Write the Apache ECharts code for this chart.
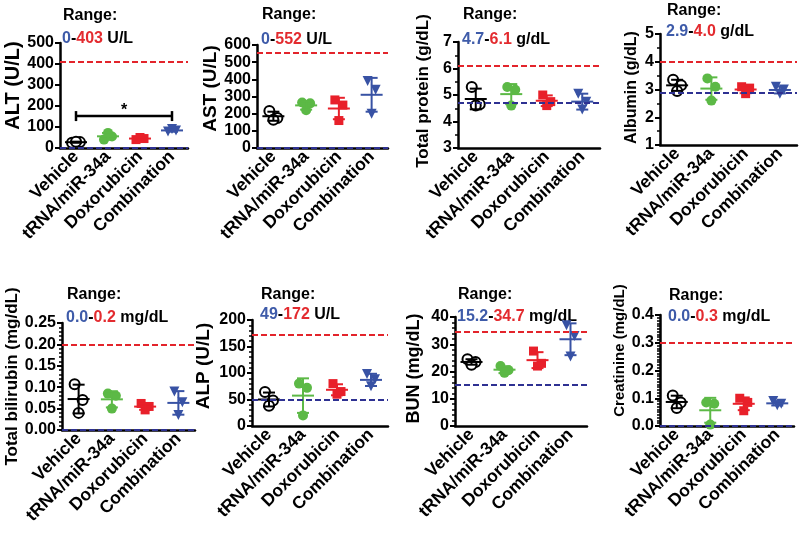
<!DOCTYPE html>
<html><head><meta charset="utf-8">
<script src="https://cdn.jsdelivr.net/npm/echarts@6/dist/echarts.min.js"></script>
<style>html,body{margin:0;padding:0;background:#fff}#c{width:800px;height:542px}</style>
</head><body><div id="c"></div>
<script>
// ---------- data ----------
const categories = ['Vehicle', 'tRNA/miR-34a', 'Doxorubicin', 'Combination'];
const panelNames = ['ALT (U/L)', 'AST (U/L)', 'Total protein (g/dL)', 'Albumin (g/dL)',
                    'Total bilirubin (mg/dL)', 'ALP (U/L)', 'BUN (mg/dL)', 'Creatinine (mg/dL)'];
const altVals  = [[25, 28, 30], [40, 55, 72], [40, 45, 50], [78, 83, 90]];
const astVals  = [[215, 175, 165], [265, 260, 220], [280, 250, 160], [390, 340, 200]];
const tpVals   = [[5.3, 4.65, 4.6], [5.3, 5.2, 4.6], [5.0, 4.75, 4.6], [5.05, 4.75, 4.45]];
const albVals  = [[3.35, 3.15, 2.95], [3.4, 3.1, 2.6], [3.1, 3.05, 2.85], [3.1, 3.0, 2.85]];
const tbilVals = [[0.107, 0.07, 0.04], [0.085, 0.08, 0.05], [0.062, 0.055, 0.047], [0.09, 0.065, 0.035]];
const alpVals  = [[64, 48, 38], [80, 72, 20], [80, 65, 60], [98, 88, 75]];
const bunVals  = [[24.5, 23.5, 22.5], [22, 20.5, 19.5], [27.5, 23, 22], [37, 33, 25.5]];
const creaVals = [[0.11, 0.085, 0.065], [0.085, 0.08, 0.005], [0.1, 0.085, 0.055], [0.09, 0.08, 0.075]];
const rangeLow  = ['0', '0', '4.7', '2.9', '0.0', '49', '15.2', '0.0'];
const rangeHigh = ['403', '552', '6.1', '4.0', '0.2', '172', '34.7', '0.3'];
const rangeUnit = ['U/L', 'U/L', 'g/dL', 'g/dL', 'mg/dL', 'U/L', 'mg/dL', 'mg/dL'];
const refLow  = [0, 0, 4.7, 2.9, 0, 49, 15.2, 0];
const refHigh = [410, 552, 6.1, 4.0, 0.2, 172, 34.7, 0.3];
const yMin  = [0, 0, 3, 1, 0, 0, 0, 0];
const yMax  = [500, 600, 7, 5, 0.25, 200, 40, 0.4];
const yStep = [100, 100, 1, 1, 0.05, 50, 10, 0.1];
const yDecimals = [0, 0, 0, 0, 2, 0, 0, 1];
const sigBracket = { from: 0, to: 3, value: 152, label: '*' };

const allVals = [altVals, astVals, tpVals, albVals, tbilVals, alpVals, bunVals, creaVals];

// ---------- styles / layout ----------
const FONT = '"Liberation Sans", Arial, sans-serif';
const groupColors = ['#000000', '#5cb946', '#e8202a', '#3852a4'];
const txtBlue = '#3e5ba9', txtRed = '#e32b2f';
const lineRed = '#e3242b', lineBlue = '#2e3192';
const layout = [
  { g: { left: 60,  top: 43,  width: 128, height: 105 }, gap: 36, fs: 20, pad: 20, minor: 0,  t: [63, 16, 39] },
  { g: { left: 257, top: 45,  width: 131, height: 103 }, gap: 35, fs: 19, pad: 16, minor: 0,  t: [262, 15, 40] },
  { g: { left: 458, top: 42,  width: 142, height: 106 }, gap: 26, fs: 17, pad: 8,  minor: 2,  t: [463, 15, 40] },
  { g: { left: 660, top: 34,  width: 137, height: 111 }, gap: 20, fs: 16, pad: 4,  minor: 2,  t: [667, 11, 32] },
  { g: { left: 62,  top: 323, width: 133, height: 107 }, gap: 41, fs: 17, pad: 0,  minor: 5,  t: [67, 295, 318] },
  { g: { left: 252, top: 320, width: 136, height: 106 }, gap: 39, fs: 19, pad: 14, minor: 5,  t: [261, 295, 315] },
  { g: { left: 455, top: 317, width: 132, height: 109 }, gap: 32, fs: 18, pad: 6,  minor: 5,  t: [458, 295, 317] },
  { g: { left: 660, top: 315, width: 134, height: 111 }, gap: 33, fs: 15, pad: 40, minor: 10, t: [669, 296, 317] }
];
const jitter = [-4, 4, 0];
const symbols = ['emptyCircle', 'circle', 'rect', 'triangle'];

function meanSd(a) {
  const m = a.reduce((s, v) => s + v, 0) / a.length;
  const sd = Math.sqrt(a.reduce((s, v) => s + (v - m) * (v - m), 0) / (a.length - 1));
  return [m, sd];
}

function errRender(params, api) {
  const ci = api.value(0), m = api.value(1), sd = api.value(2);
  const c = api.coord([ci, m]);
  const t = api.coord([ci, m + sd]);
  const b = api.coord([ci, m - sd]);
  const st = { stroke: groupColors[ci], lineWidth: 2 };
  const hw = 11, cw = 6;
  return { type: 'group', children: [
    { type: 'line', shape: { x1: c[0] - hw, y1: c[1], x2: c[0] + hw, y2: c[1] }, style: st },
    { type: 'line', shape: { x1: c[0], y1: t[1], x2: c[0], y2: b[1] }, style: st },
    { type: 'line', shape: { x1: c[0] - cw, y1: t[1], x2: c[0] + cw, y2: t[1] }, style: st },
    { type: 'line', shape: { x1: c[0] - cw, y1: b[1], x2: c[0] + cw, y2: b[1] }, style: st }
  ]};
}

function bracketRender(params, api) {
  const a = api.coord([sigBracket.from, sigBracket.value]);
  const b = api.coord([sigBracket.to, sigBracket.value]);
  const st = { stroke: '#000', lineWidth: 2.5 };
  return { type: 'group', children: [
    { type: 'line', shape: { x1: a[0], y1: a[1], x2: b[0], y2: b[1] }, style: st },
    { type: 'line', shape: { x1: a[0], y1: a[1] - 5, x2: a[0], y2: a[1] + 5 }, style: st },
    { type: 'line', shape: { x1: b[0], y1: b[1] - 5, x2: b[0], y2: b[1] + 5 }, style: st },
    { type: 'text', style: { text: sigBracket.label, x: (a[0] + b[0]) / 2, y: a[1] - 5,
        align: 'center', verticalAlign: 'middle', font: 'bold 16px ' + FONT, fill: '#000' } }
  ]};
}

const grids = [], xAxes = [], yAxes = [], series = [], graphics = [];
layout.forEach((L, p) => {
  grids.push(L.g);
  xAxes.push({
    type: 'category', gridIndex: p, data: categories,
    axisLine: { lineStyle: { color: '#000', width: 2.5 } },
    axisTick: { alignWithLabel: true, length: 5, lineStyle: { color: '#000', width: 2 } },
    axisLabel: { interval: 0, rotate: 45, margin: 6, color: '#000', fontWeight: 'bold', fontSize: 17.5, fontFamily: FONT },
    splitLine: { show: false }
  });
  yAxes.push({
    type: 'value', gridIndex: p, min: yMin[p], max: yMax[p], interval: yStep[p],
    name: panelNames[p], nameLocation: 'middle', nameGap: L.gap,
    nameTextStyle: { color: '#000', fontWeight: 'bold', fontSize: L.fs, fontFamily: FONT, padding: [0, 0, 0, L.pad] },
    axisLine: { show: true, lineStyle: { color: '#000', width: 2.5 } },
    axisTick: { show: true, length: 5, lineStyle: { color: '#000', width: 2 } },
    minorTick: { show: L.minor > 0, splitNumber: L.minor || 5, length: 3, lineStyle: { color: '#000', width: 1.5 } },
    axisLabel: { margin: 6, color: '#000', fontWeight: 'bold', fontSize: 16, fontFamily: FONT,
                 formatter: v => Number(v).toFixed(yDecimals[p]) },
    splitLine: { show: false }
  });
  const vals = allVals[p];
  vals.forEach((arr, g) => {
    series.push({
      type: 'scatter', xAxisIndex: p, yAxisIndex: p, z: 3,
      symbol: symbols[g], symbolRotate: g === 3 ? 180 : 0, symbolSize: g === 2 ? 9 : 10,
      itemStyle: { color: groupColors[g], borderColor: groupColors[g], borderWidth: g === 0 ? 2 : 0, opacity: 1 },
      data: arr.map((v, k) => ({ value: [g, v], symbolOffset: [jitter[k], 0] }))
    });
  });
  series.push({
    type: 'custom', xAxisIndex: p, yAxisIndex: p, z: 4,
    renderItem: errRender,
    encode: { x: 0, y: 1 },
    data: vals.map((arr, g) => [g].concat(meanSd(arr))),
    markLine: {
      silent: true, symbol: ['none', 'none'], label: { show: false }, z: 5,
      data: [
        { yAxis: refHigh[p], lineStyle: { color: lineRed, type: [6, 3], width: 2 } },
        { yAxis: refLow[p], lineStyle: { color: lineBlue, type: [6, 3], width: 2 } }
      ]
    }
  });
  const f = 'bold 16px ' + FONT;
  graphics.push({ type: 'text', x: L.t[0], y: L.t[1],
    style: { text: 'Range:', font: f, fill: '#000', verticalAlign: 'middle' } });
  graphics.push({ type: 'text', x: L.t[0] - 1, y: L.t[2],
    style: { text: '{b|' + rangeLow[p] + '}{k|-}{r|' + rangeHigh[p] + '}{k| ' + rangeUnit[p] + '}',
      font: f, fill: '#000', verticalAlign: 'middle',
      rich: { b: { fill: txtBlue, font: f }, r: { fill: txtRed, font: f }, k: { fill: '#000', font: f } } } });
});

series.push({
  type: 'custom', xAxisIndex: 0, yAxisIndex: 0, z: 4,
  renderItem: bracketRender, encode: { x: 0, y: 1 },
  data: [[sigBracket.from, sigBracket.value]]
});

const chart = echarts.init(document.getElementById('c'));
chart.setOption({
  animation: false,
  textStyle: { fontFamily: FONT },
  grid: grids, xAxis: xAxes, yAxis: yAxes, series: series, graphic: graphics
});
</script></body></html>
